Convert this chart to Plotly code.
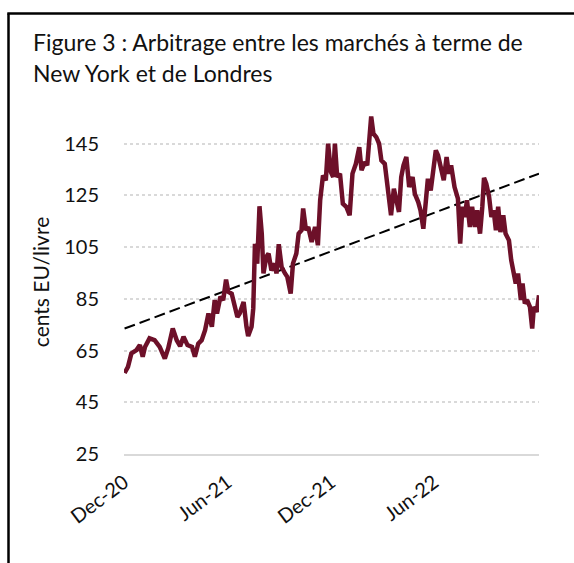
import plotly.graph_objects as go

# ---------------- data ----------------
dates = [
    "2020-12-02", "2020-12-08", "2020-12-14", "2020-12-23", "2020-12-29",
    "2021-01-03", "2021-01-07", "2021-01-15", "2021-01-24", "2021-02-02",
    "2021-02-11", "2021-02-17", "2021-02-25", "2021-03-04", "2021-03-10",
    "2021-03-16", "2021-03-23", "2021-03-31", "2021-04-05", "2021-04-11",
    "2021-04-17", "2021-04-23", "2021-04-29", "2021-05-05", "2021-05-10",
    "2021-05-14", "2021-05-20", "2021-05-25", "2021-05-30", "2021-06-03",
    "2021-06-09", "2021-06-14", "2021-06-19", "2021-06-23", "2021-06-30",
    "2021-07-05", "2021-07-08", "2021-07-14", "2021-07-17", "2021-07-20",
    "2021-07-24", "2021-07-28", "2021-08-01", "2021-08-04", "2021-08-09",
    "2021-08-13", "2021-08-18", "2021-08-24", "2021-08-27", "2021-08-31",
    "2021-09-05", "2021-09-11", "2021-09-15", "2021-09-21", "2021-09-25",
    "2021-10-01", "2021-10-05", "2021-10-10", "2021-10-13", "2021-10-18",
    "2021-10-22", "2021-10-28", "2021-11-03", "2021-11-08", "2021-11-12",
    "2021-11-17", "2021-11-22", "2021-11-26", "2021-12-01", "2021-12-05",
    "2021-12-08", "2021-12-12", "2021-12-17", "2021-12-22", "2021-12-28",
    "2022-01-03", "2022-01-08", "2022-01-14", "2022-01-20", "2022-01-24",
    "2022-01-30", "2022-02-03", "2022-02-06", "2022-02-10", "2022-02-14",
    "2022-02-19", "2022-02-24", "2022-02-28", "2022-03-06", "2022-03-12",
    "2022-03-17", "2022-03-22", "2022-03-27", "2022-03-31", "2022-04-04",
    "2022-04-08", "2022-04-13", "2022-04-18", "2022-04-24", "2022-04-28",
    "2022-05-04", "2022-05-08", "2022-05-13", "2022-05-17", "2022-05-21",
    "2022-05-26", "2022-05-30", "2022-06-04", "2022-06-08", "2022-06-13",
    "2022-06-18", "2022-06-23", "2022-06-27", "2022-07-01", "2022-07-07",
    "2022-07-13", "2022-07-17", "2022-07-21", "2022-07-25", "2022-07-29",
    "2022-08-03", "2022-08-07", "2022-08-12", "2022-08-16", "2022-08-21",
    "2022-08-25", "2022-08-28", "2022-09-01", "2022-09-06", "2022-09-10",
    "2022-09-14", "2022-09-18", "2022-09-22", "2022-09-26", "2022-10-01",
    "2022-10-05", "2022-10-11", "2022-10-15", "2022-10-19", "2022-10-23",
    "2022-10-27", "2022-11-01", "2022-11-04", "2022-11-08", "2022-11-12",
    "2022-11-17", "2022-11-21", "2022-11-24", "2022-11-29", "2022-12-03",
]

prices = [
    56.3, 58.7, 63.9, 65.2, 67.1,
    62.6, 66.4, 69.7, 69.0, 66.4,
    61.9, 65.9, 73.5, 69.0, 66.7,
    70.3, 67.1, 66.4, 62.6, 67.7,
    69.0, 72.9, 79.3, 74.2, 84.5,
    79.3, 85.8, 84.5, 92.4, 87.7,
    87.0, 83.2, 78.0, 79.3, 83.8,
    74.2, 70.6, 74.2, 81.3, 106.3,
    98.6, 120.8, 110.2, 94.8, 101.2,
    102.5, 96.0, 98.6, 94.8, 106.1,
    97.3, 94.8, 93.5, 87.0, 98.6,
    102.5, 110.2, 111.5, 119.9, 111.5,
    112.8, 107.0, 112.8, 105.7, 123.1,
    132.7, 130.8, 145.0, 134.0, 132.1,
    145.0, 132.1, 133.4, 121.8, 120.6,
    117.3, 133.4, 137.2, 143.6, 134.7,
    137.9, 136.6, 143.0, 155.5, 148.8,
    147.5, 145.0, 138.5, 137.2, 126.9,
    117.3, 127.6, 123.1, 118.6, 132.1,
    136.6, 139.8, 128.2, 132.1, 125.6,
    122.4, 119.2, 112.1, 123.7, 131.4,
    126.9, 134.7, 142.4, 140.4, 136.0,
    130.8, 139.8, 133.4, 136.6, 128.2,
    123.7, 106.3, 120.6, 116.6, 123.1,
    112.8, 120.6, 112.8, 119.2, 110.2,
    120.6, 131.8, 129.5, 124.4, 116.6,
    119.2, 111.5, 120.6, 110.8, 117.3,
    110.2, 107.6, 99.9, 96.0, 90.9,
    94.8, 84.5, 90.9, 83.2, 84.5,
    81.9, 73.5, 81.9, 79.9, 86.4,
]

trend_dates = ["2020-12-02", "2022-12-03"]
trend_values = [73.5, 133.4]

x_tick_dates = ["2020-12-01", "2021-06-01", "2021-12-01", "2022-06-01"]
x_tick_labels = ["Dec-20", "Jun-21", "Dec-21", "Jun-22"]
y_ticks = [25, 45, 65, 85, 105, 125, 145]

title_line1 = "Figure 3 : Arbitrage entre les marchés à terme de"
title_line2 = "New York et de Londres"
y_title = "cents EU/livre"

# ---------------- layout geometry ----------------
W, H = 574, 563
L, R, T, B = 124, 35, 110, 109
PW, PH = W - L - R, H - T - B
FONT = "Lato"
TXT = "#111111"


def px(x):
    return (x - L) / PW


def py(y):
    return (H - B - y) / PH


fig = go.Figure()
fig.add_trace(go.Scatter(
    x=trend_dates, y=trend_values, mode="lines",
    line=dict(color="black", width=2, dash="11px,5px"),
    hoverinfo="skip", showlegend=False,
))
fig.add_trace(go.Scatter(
    x=dates, y=prices, mode="lines",
    line=dict(color="#6D1029", width=4.5),
    showlegend=False,
))

fig.update_layout(
    width=W, height=H,
    margin=dict(l=L, r=R, t=T, b=B, pad=0, autoexpand=False),
    paper_bgcolor="white", plot_bgcolor="white",
    font=dict(family=FONT, color=TXT, size=20),
    showlegend=False,
)

fig.update_xaxes(
    type="date", automargin=False,
    range=["2020-12-01", "2022-12-03"],
    tickmode="array", tickvals=x_tick_dates, ticktext=x_tick_labels,
    tickangle=-37, tickfont=dict(size=20, family=FONT, color=TXT),
    showgrid=False, zeroline=False,
    showline=True, linecolor="#D9D9D9", linewidth=2,
    ticks="", ticklabelstandoff=7,
)
fig.update_yaxes(
    range=[25, 158], automargin=False,
    tickmode="array", tickvals=y_ticks,
    tickfont=dict(size=20, family=FONT, color=TXT),
    showgrid=True, gridcolor="#D9D9D9", gridwidth=2, griddash="dot",
    zeroline=False, showline=False, ticks="", ticklabelstandoff=24,
    title=dict(text=y_title, font=dict(size=21, family=FONT, color=TXT), standoff=8),
)

# frame of the figure box (top and left edges visible)
fig.add_shape(type="line", xref="paper", yref="paper",
              x0=px(8.5), x1=px(8.5), y0=py(13.5), y1=py(620),
              line=dict(color="black", width=2.5))
fig.add_shape(type="line", xref="paper", yref="paper",
              x0=px(7.3), x1=px(640), y0=py(13.5), y1=py(13.5),
              line=dict(color="black", width=2.5))

fig.add_annotation(text=title_line1, xref="paper", yref="paper",
                   x=px(31), y=py(42), xanchor="left", yanchor="middle",
                   showarrow=False, font=dict(size=23, family=FONT, color=TXT))
fig.add_annotation(text=title_line2, xref="paper", yref="paper",
                   x=px(31), y=py(73), xanchor="left", yanchor="middle",
                   showarrow=False, font=dict(size=23, family=FONT, color=TXT))

fig.write_html("out.html", config={"displayModeBar": False},
               post_script="document.body.style.margin='0';")
